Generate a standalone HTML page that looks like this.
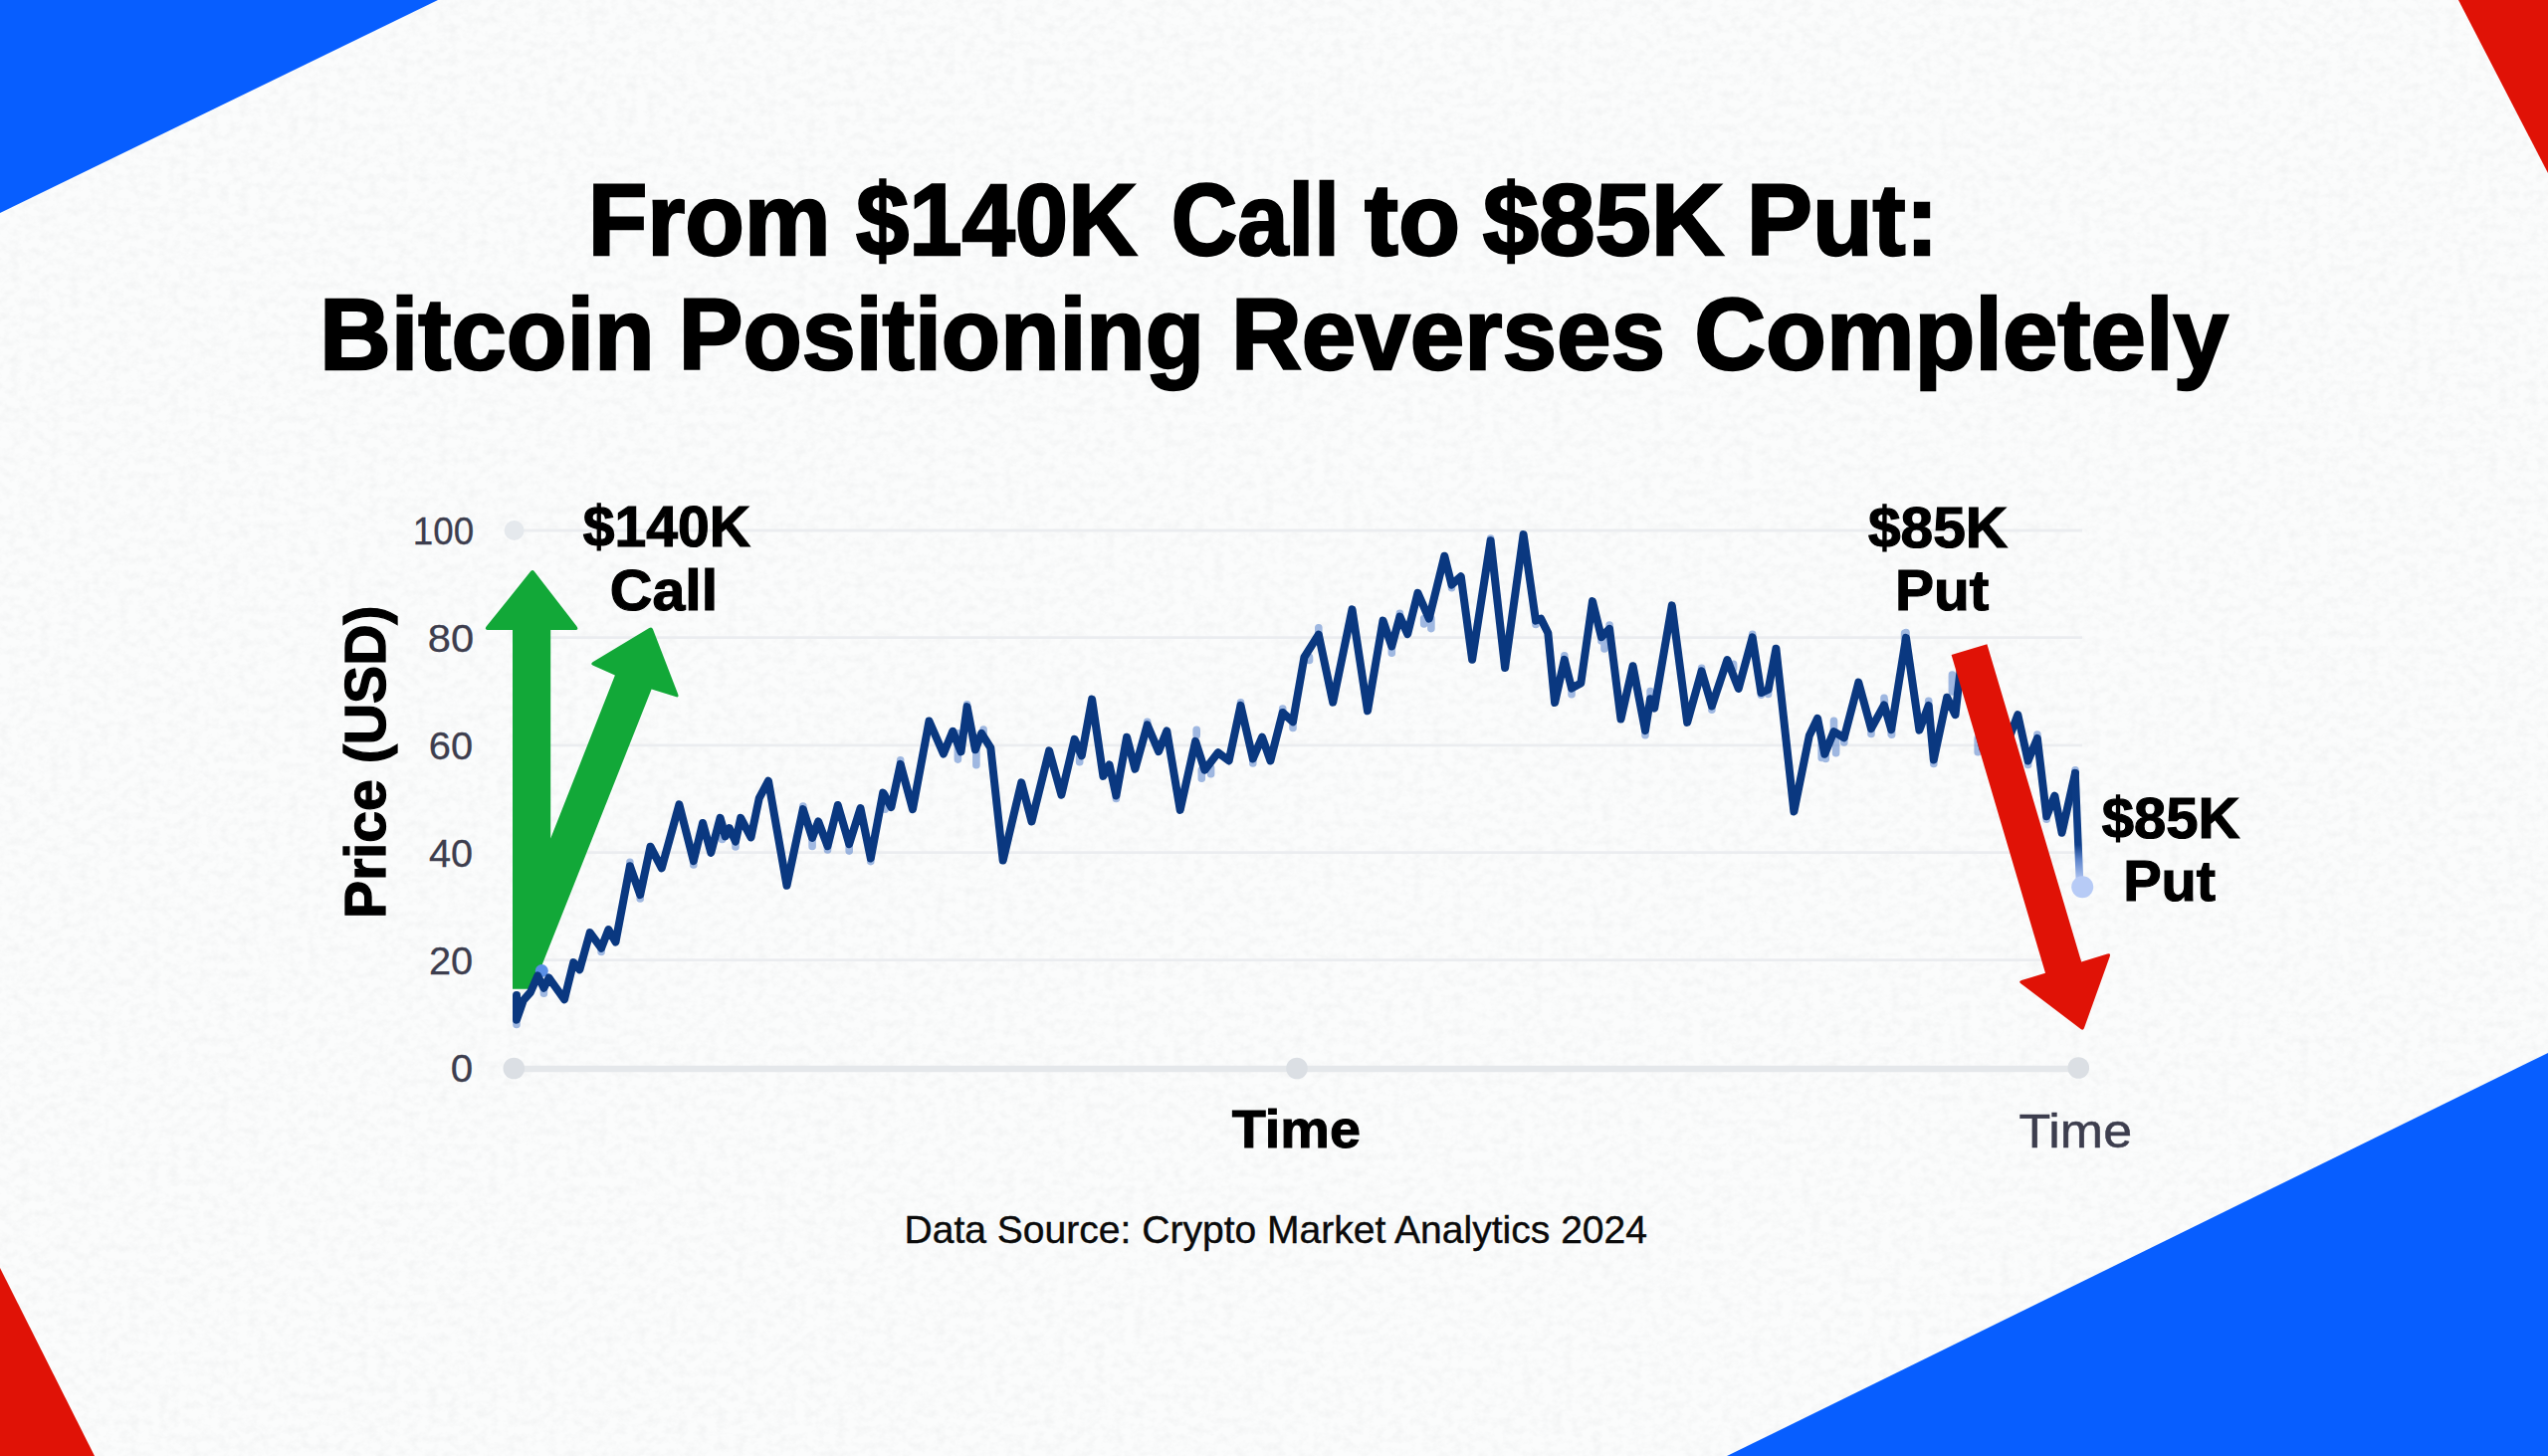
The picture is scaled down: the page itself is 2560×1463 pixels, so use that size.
<!DOCTYPE html>
<html lang="en">
<head>
<meta charset="utf-8">
<title>From $140K Call to $85K Put: Bitcoin Positioning Reverses Completely</title>
<style>
html,body{margin:0;padding:0;background:#fbfcfc;}
body{width:2560px;height:1463px;overflow:hidden;position:relative;font-family:"Liberation Sans",sans-serif;}
svg{position:absolute;left:0;top:0;display:block;}
text{font-family:"Liberation Sans",sans-serif;}
</style>
</head>
<body>
<svg width="2560" height="1463" viewBox="0 0 2560 1463">
<defs>
<linearGradient id="tail" x1="0" y1="0" x2="0" y2="1">
<stop offset="0" stop-color="#0a3880"/>
<stop offset="0.66" stop-color="#0f3f8a"/>
<stop offset="0.8" stop-color="#5f86cc"/>
<stop offset="1" stop-color="#b9ccf6"/>
</linearGradient>
<filter id="paper" x="0" y="0" width="100%" height="100%" color-interpolation-filters="sRGB">
<feTurbulence type="fractalNoise" baseFrequency="0.10 0.12" numOctaves="3" seed="11" result="n"/>
<feColorMatrix in="n" type="matrix" values="0 0 0 0 0.42  0 0 0 0 0.44  0 0 0 0 0.46  1.3 0 0 0 -0.5"/>
</filter>
</defs>
<rect width="2560" height="1463" fill="#fbfcfc"/>
<rect width="2560" height="1463" filter="url(#paper)" opacity="0.08"/>
<!-- corner shapes -->
<polygon points="0,0 440,0 0,214" fill="#075eff"/>
<polygon points="2470,0 2560,0 2560,174" fill="#e01206"/>
<polygon points="0,1274 95,1463 0,1463" fill="#e01206"/>
<polygon points="2560,1058 2560,1463 1735,1463" fill="#075eff"/>

<g id="grid">
<line x1="517" y1="533" x2="2092" y2="533" stroke="#ebedf0" stroke-width="2.8"/>
<line x1="517" y1="640.6" x2="2092" y2="640.6" stroke="#ebedf0" stroke-width="2.8"/>
<line x1="517" y1="748.8" x2="2092" y2="748.8" stroke="#ebedf0" stroke-width="2.8"/>
<line x1="517" y1="856.6" x2="2092" y2="856.6" stroke="#ebedf0" stroke-width="2.8"/>
<line x1="517" y1="964.7" x2="2092" y2="964.7" stroke="#ebedf0" stroke-width="2.8"/>
<line x1="517" y1="1074" x2="2088" y2="1074" stroke="#e5e8eb" stroke-width="6.5" stroke-linecap="round"/>
<circle cx="516.6" cy="533" r="10" fill="#e5e9ed"/>
<circle cx="516.3" cy="1073.5" r="10.8" fill="#dbdfe4"/>
<circle cx="1303" cy="1073.5" r="10.8" fill="#dbdfe4"/>
<circle cx="2088.3" cy="1073" r="10.8" fill="#dbdfe4"/>
</g>
<text transform="translate(386.6,923) rotate(-90)" font-size="58" font-weight="700" fill="#000" stroke="#000" stroke-width="1.3" textLength="314.5" lengthAdjust="spacingAndGlyphs">Price (USD)</text>
<path id="green" d="M533.2,574.1 Q535.1,571.8 536.9,574.2 L579.2,629.0 Q582.3,633.0 577.3,633.0 L553.2,633.0 L553.2,842.5 L617.9,678.6 L596.1,668.8 Q592.5,667.2 595.9,665.1 L652.3,631.0 Q654.9,629.4 656.0,632.2 L681.2,697.6 Q682.6,701.3 678.8,700.1 L654.6,692.6 L535.0,993.8 L515.0,993.8 L515.0,633.0 L490.9,633.0 Q485.9,633.0 489.0,629.1 Z" fill="#12a838"/>
<path d="M519.0,1024.8 L519.0,1029.4 M546.4,992.8 L546.4,998.3 M604.1,952.7 L604.1,956.5 M632.9,870.2 L632.9,866.4 M643.2,899.1 L643.2,903.0 M696.8,865.1 L696.8,869.0 M725.6,828.0 L725.6,843.5 M739.0,845.5 L739.0,850.9 M806.8,813.1 L806.8,810.0 M816.1,841.9 L816.1,850.4 M831.5,850.2 L831.5,854.0 M853.2,848.1 L853.2,855.1 M874.8,862.5 L874.8,865.6 M889.2,798.7 L889.2,813.3 M904.7,767.8 L904.7,763.9 M962.4,736.8 L962.4,763.1 M971.6,710.1 L971.6,707.7 M980.9,753.3 L980.9,768.8 M988.1,736.8 L988.1,733.0 M1084.7,757.2 L1084.7,765.7 M1121.4,799.5 L1121.4,802.5 M1152.7,728.4 L1152.7,725.3 M1202.2,738.7 L1202.2,733.3 M1207.3,773.7 L1207.3,782.2 M1216.6,771.6 L1216.6,777.8 M1246.5,708.8 L1246.5,705.7 M1258.8,762.4 L1258.8,767.0 M1288.7,716.0 L1288.7,712.1 M1299.0,725.3 L1299.0,731.5 M1315.5,660.4 L1315.5,663.5 M1324.8,637.7 L1324.8,630.7 M1398.3,649.4 L1398.3,656.3 M1406.4,619.5 L1406.4,616.4 M1430.7,621.6 L1430.7,627.0 M1437.9,621.6 L1437.9,631.6 M1458.5,587.6 L1458.5,590.7 M1497.6,543.3 L1497.6,541.0 M1543.0,623.6 L1543.0,627.5 M1571.8,662.8 L1571.8,658.9 M1579.0,691.6 L1579.0,697.8 M1608.9,640.1 L1608.9,644.0 M1612.0,644.2 L1612.0,652.0 M1617.1,631.9 L1617.1,628.0 M1653.0,734.1 L1653.0,738.8 M1658.1,702.2 L1658.1,694.5 M1709.6,674.4 L1709.6,671.3 M1719.9,709.4 L1719.9,713.3 M1741.6,667.2 L1741.6,671.8 M1760.7,640.4 L1760.7,637.3 M1769.4,696.0 L1769.4,698.3 M1776.6,692.9 L1776.6,697.5 M1830.2,741.3 L1830.2,761.4 M1834.3,757.8 L1834.3,762.5 M1842.5,735.1 L1842.5,724.3 M1844.6,741.3 L1844.6,756.8 M1852.8,741.3 L1852.8,746.0 M1880.0,732.1 L1880.0,737.5 M1893.0,708.4 L1893.0,701.4 M1900.2,733.1 L1900.2,737.7 M1913.6,642.4 L1913.6,636.2 M1900.6,733.6 L1900.6,738.3 M1893.4,708.9 L1893.4,703.5 M1915.0,640.9 L1915.0,635.5 M1937.7,708.9 L1937.7,704.3 M1942.8,763.5 L1942.8,767.4 M1961.4,678.0 L1961.4,695.0 M1987.2,741.9 L1987.2,755.8 M2037.6,764.5 L2037.6,768.4 M2046.9,741.9 L2046.9,738.0 M2056.2,820.2 L2056.2,823.3 M2085.0,776.9 L2085.0,773.8" fill="none" stroke="#4575c8" stroke-opacity="0.5" stroke-width="7.6" stroke-linecap="round"/>
<circle cx="544.3" cy="975.5" r="6.5" fill="#5a8fe6"/>
<path d="M519.0,1000.1 L519.0,1024.8 L525.8,1005.2 L533.0,997.0 L540.2,980.5 L546.4,992.8 L551.5,982.5 L567.0,1004.2 L576.2,967.1 L582.4,974.3 L592.7,937.2 L604.1,952.7 L611.3,934.1 L618.5,946.5 L632.9,870.2 L643.2,899.1 L653.5,850.7 L664.8,872.3 L682.4,808.4 L696.8,865.1 L706.1,827.0 L714.3,856.8 L723.6,821.8 L728.7,840.4 L732.8,832.1 L739.0,845.5 L744.2,821.8 L754.5,841.4 L762.7,802.2 L772.0,784.7 L790.5,889.8 L806.8,813.1 L816.1,841.9 L822.2,825.5 L831.5,850.2 L841.8,809.0 L853.2,848.1 L864.5,812.1 L874.8,862.5 L887.2,796.6 L895.4,811.0 L904.7,767.8 L917.0,813.1 L933.5,724.5 L947.9,757.5 L957.2,734.8 L965.5,755.4 L971.6,710.1 L979.9,753.3 L986.1,736.8 L995.3,751.3 L1007.7,864.6 L1026.2,786.3 L1036.5,825.5 L1054.1,754.4 L1066.4,798.7 L1079.6,742.8 L1086.8,759.3 L1097.1,702.6 L1108.4,779.9 L1114.6,768.5 L1121.4,799.5 L1132.1,740.7 L1140.4,772.7 L1152.7,728.4 L1164.1,755.1 L1172.3,734.5 L1185.7,813.9 L1201.1,744.8 L1210.4,773.7 L1223.8,756.2 L1234.7,764.4 L1246.5,708.8 L1258.8,762.4 L1268.1,740.7 L1276.4,764.4 L1288.7,716.0 L1299.0,725.3 L1310.4,660.4 L1324.8,637.7 L1339.2,705.7 L1358.5,612.3 L1374.0,714.3 L1389.5,623.6 L1398.3,649.4 L1406.4,619.5 L1414.2,637.0 L1424.5,595.8 L1435.8,621.6 L1451.3,558.7 L1458.5,587.6 L1467.8,579.3 L1479.1,662.8 L1497.6,543.3 L1512.1,671.0 L1530.6,537.1 L1543.0,623.6 L1548.1,621.6 L1555.3,636.0 L1562.1,706.1 L1571.8,662.8 L1579.0,691.6 L1588.3,686.5 L1600.0,604.1 L1608.9,640.1 L1617.1,631.9 L1628.5,722.5 L1640.6,669.2 L1653.0,734.1 L1658.1,702.2 L1662.2,711.5 L1679.8,608.4 L1695.2,725.9 L1709.6,674.4 L1719.9,709.4 L1735.4,663.0 L1746.7,691.9 L1760.7,640.4 L1769.4,696.0 L1776.6,692.9 L1784.4,651.7 L1802.4,815.5 L1817.8,739.3 L1826.1,721.8 L1833.3,757.8 L1842.5,735.1 L1852.8,741.3 L1867.3,685.7 L1880.0,732.1 L1893.0,708.4 L1900.2,733.1 L1915.0,640.9 L1928.4,733.6 L1937.7,708.9 L1942.8,763.5 L1956.2,700.7 L1964.5,718.2 L1970.7,663.6 L1992.3,752.2 L2003.6,725.4 L2013.9,754.2 L2027.3,718.2 L2037.6,764.5 L2046.9,741.9 L2056.2,820.2 L2064.4,799.6 L2071.6,836.7 L2085.0,776.9" fill="none" stroke="#0a3880" stroke-width="8" stroke-linejoin="round" stroke-linecap="round"/>
<path d="M2085.0,776.9 L2089.5,886" fill="none" stroke="url(#tail)" stroke-width="7.6" stroke-linecap="round"/>
<circle cx="2092.2" cy="891.2" r="11" fill="#b7cbf6"/>
<path id="red" d="M1960.6,658.0 L1996.4,647.3 L2091.2,966.4 L2117.2,958.6 Q2121.0,957.4 2119.7,961.2 L2094.0,1033.0 Q2093.0,1035.8 2090.6,1034.0 L2030.6,988.4 Q2027.4,986.0 2031.2,984.9 L2055.0,977.8 Z" fill="#e01206"/>
<g id="texts">
<text font-size="101.60" font-weight="700" fill="#000" stroke="#000" stroke-width="2.4"><tspan x="590.64" y="255.70" textLength="243.97" lengthAdjust="spacingAndGlyphs">From</tspan> <tspan x="859.90" y="255.70" textLength="282.50" lengthAdjust="spacingAndGlyphs">$140K</tspan> <tspan x="1176.85" y="255.70" textLength="168.90" lengthAdjust="spacingAndGlyphs">Call</tspan> <tspan x="1371.09" y="255.70" textLength="96.01" lengthAdjust="spacingAndGlyphs">to</tspan> <tspan x="1489.80" y="255.70" textLength="242.20" lengthAdjust="spacingAndGlyphs">$85K</tspan> <tspan x="1754.73" y="255.70" textLength="192.91" lengthAdjust="spacingAndGlyphs">Put:</tspan></text>
<text font-size="101.60" font-weight="700" fill="#000" stroke="#000" stroke-width="2.4"><tspan x="320.91" y="370.50" textLength="336.85" lengthAdjust="spacingAndGlyphs">Bitcoin</tspan> <tspan x="681.69" y="370.50" textLength="528.22" lengthAdjust="spacingAndGlyphs">Positioning</tspan> <tspan x="1236.90" y="370.50" textLength="436.15" lengthAdjust="spacingAndGlyphs">Reverses</tspan> <tspan x="1702.18" y="370.50" textLength="536.81" lengthAdjust="spacingAndGlyphs">Completely</tspan></text>
<text font-size="57.85" font-weight="700" fill="#000" stroke="#000" stroke-width="1.2"><tspan x="585.70" y="548.60" textLength="168.20" lengthAdjust="spacingAndGlyphs">$140K</tspan> <tspan x="612.81" y="612.90" textLength="108.27" lengthAdjust="spacingAndGlyphs">Call</tspan></text>
<text font-size="57.85" font-weight="700" fill="#000" stroke="#000" stroke-width="1.2"><tspan x="1876.90" y="550.30" textLength="140.31" lengthAdjust="spacingAndGlyphs">$85K</tspan> <tspan x="1903.95" y="612.90" textLength="94.27" lengthAdjust="spacingAndGlyphs">Put</tspan></text>
<text font-size="57.85" font-weight="700" fill="#000" stroke="#000" stroke-width="1.2"><tspan x="2111.80" y="842.30" textLength="138.72" lengthAdjust="spacingAndGlyphs">$85K</tspan> <tspan x="2133.16" y="904.80" textLength="92.84" lengthAdjust="spacingAndGlyphs">Put</tspan></text>
<text x="1237.70" y="1152.90" font-size="52.91" font-weight="700" fill="#000" stroke="#000" stroke-width="1.0" textLength="129.26" lengthAdjust="spacingAndGlyphs">Time</text>
<text x="2028.49" y="1152.75" font-size="48.69" font-weight="400" fill="#3d3e4e" stroke="#3d3e4e" stroke-width="0.5" textLength="113.57" lengthAdjust="spacingAndGlyphs">Time</text>
<text x="414.82" y="547.45" font-size="39.10" font-weight="400" fill="#3d3e4e" stroke="#3d3e4e" stroke-width="0.3" textLength="61.29" lengthAdjust="spacingAndGlyphs">100</text>
<text x="429.81" y="655.45" font-size="39.10" font-weight="400" fill="#3d3e4e" stroke="#3d3e4e" stroke-width="0.3" textLength="46.32" lengthAdjust="spacingAndGlyphs">80</text>
<text x="430.86" y="763.05" font-size="39.10" font-weight="400" fill="#3d3e4e" stroke="#3d3e4e" stroke-width="0.3" textLength="44.28" lengthAdjust="spacingAndGlyphs">60</text>
<text x="430.99" y="870.85" font-size="39.10" font-weight="400" fill="#3d3e4e" stroke="#3d3e4e" stroke-width="0.3" textLength="44.10" lengthAdjust="spacingAndGlyphs">40</text>
<text x="430.91" y="978.85" font-size="39.10" font-weight="400" fill="#3d3e4e" stroke="#3d3e4e" stroke-width="0.3" textLength="44.26" lengthAdjust="spacingAndGlyphs">20</text>
<text x="452.72" y="1086.55" font-size="39.10" font-weight="400" fill="#3d3e4e" stroke="#3d3e4e" stroke-width="0.3" textLength="22.43" lengthAdjust="spacingAndGlyphs">0</text>
<text x="908.49" y="1248.80" font-size="39.24" font-weight="400" fill="#0b0b0b" stroke="#0b0b0b" stroke-width="0.4" textLength="746.52" lengthAdjust="spacingAndGlyphs">Data Source: Crypto Market Analytics 2024</text>
</g>
</svg>
</body>
</html>
